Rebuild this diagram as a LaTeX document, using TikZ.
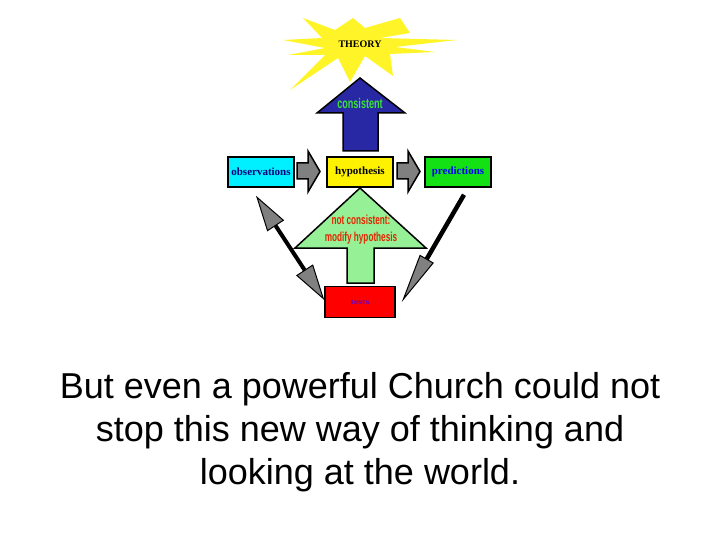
\documentclass[tikz,border=0pt]{standalone}
\usepackage{fontspec}
\setmainfont{Liberation Serif}
\newfontfamily\arialfont{Liberation Sans}
\usetikzlibrary{arrows.meta,positioning,calc}
\definecolor{rayyellow}{RGB}{255,244,40}
\definecolor{upblue}{RGB}{40,40,165}
\definecolor{upgreen}{RGB}{150,240,150}
\definecolor{obscyan}{RGB}{0,240,255}
\definecolor{predgreen}{RGB}{20,225,20}
\definecolor{conscolor}{RGB}{60,225,60}
\definecolor{modred}{RGB}{225,40,0}
\definecolor{testpurple}{RGB}{100,0,200}

\begin{document}
\begin{tikzpicture}[x=1pt,y=-1pt,
  box/.style={draw=black,line width=1.5pt,minimum width=66pt,minimum height=30pt,inner sep=0pt,font=\bfseries\fontsize{11}{11}\selectfont},
  flow/.style={draw=black,line width=1.5pt,fill=gray}]
  \useasboundingbox (0,0) rectangle (720,540);

  % Strahlen der Theorie
  \fill[rayyellow] (303,18) -- (335,30) -- (353,18) -- (365,28) -- (400,18) -- (410,33)
    -- (380,38) -- (457,40) -- (395,47) -- (435,52) -- (390,54) -- (393,76)
    -- (365,56) -- (350,82) -- (338,58) -- (290,90) -- (325,55) -- (288,55)
    -- (325,48) -- (283,40) -- (322,38) -- cycle;
  \node[font=\bfseries\fontsize{10}{10}\selectfont] (theory) at (360,44) {THEORY};

  % Pfeil nach oben
  \draw[line width=1.5pt,fill=upblue] (360,78) -- (405,113) -- (378,113) -- (378,151)
    -- (343,151) -- (343,113) -- (317,113) -- cycle;
  \node[font=\arialfont\bfseries\fontsize{14}{14}\selectfont,text=conscolor] (cons) at (360,103) {\scalebox{0.65}[1]{consistent}};

  % Kasten
  \node[box,fill=obscyan,text=blue!50!black] (obs) at (261,172) {observations};
  \node[box,fill=yellow] (hyp) at (360,172) {hypothesis};
  \node[box,fill=predgreen,text=blue] (pred) at (458,172) {predictions};
  \node[box,fill=red,text=testpurple,minimum width=70pt,minimum height=31pt,font=\bfseries\fontsize{10}{10}\selectfont] (tests) at (360,302) {\scalebox{1}[0.75]{tests}};

  % graue Pfeile
  \foreach \xa in {297,397}{
    \draw[flow] (\xa,163) -- (\xa+11,163) -- (\xa+11,151) -- (\xa+23,171.5)
      -- (\xa+11,192) -- (\xa+11,179) -- (\xa,179) -- cycle;
  }

  % zurueck zur Hypothese
  \draw[line width=1.5pt,fill=upgreen] (360,188) -- (426,248) -- (374,248) -- (374,283)
    -- (347,283) -- (347,248) -- (295,248) -- cycle;
  \node[font=\arialfont\bfseries\fontsize{13}{17}\selectfont,text=modred,align=center] (modify) at (361,229.5) {\scalebox{0.63}[1]{not consistent:}\\\scalebox{0.63}[1]{modify hypothesis}};

  % Verbindungen
  \draw[line width=4pt,{Triangle[length=36pt,width=20pt,fill=gray,line width=1pt]}-{Triangle[length=36pt,width=20pt,fill=gray,line width=1pt]}]
    ([shift={(-5pt,-8pt)}]obs.south) -- ([yshift=2pt]tests.west);
  \draw[line width=4.5pt,-{Triangle[length=50pt,width=16pt,fill=gray,line width=1pt]}]
    ([shift={(6pt,-7pt)}]pred.south) -- ([xshift=6pt]tests.east);

  \node[font=\arialfont\fontsize{36}{43}\selectfont,align=center,anchor=base] (caption) at (360,484)
    {But even a powerful Church could not\\stop this new way of thinking and\\looking at the world.};
\end{tikzpicture}
\end{document}
